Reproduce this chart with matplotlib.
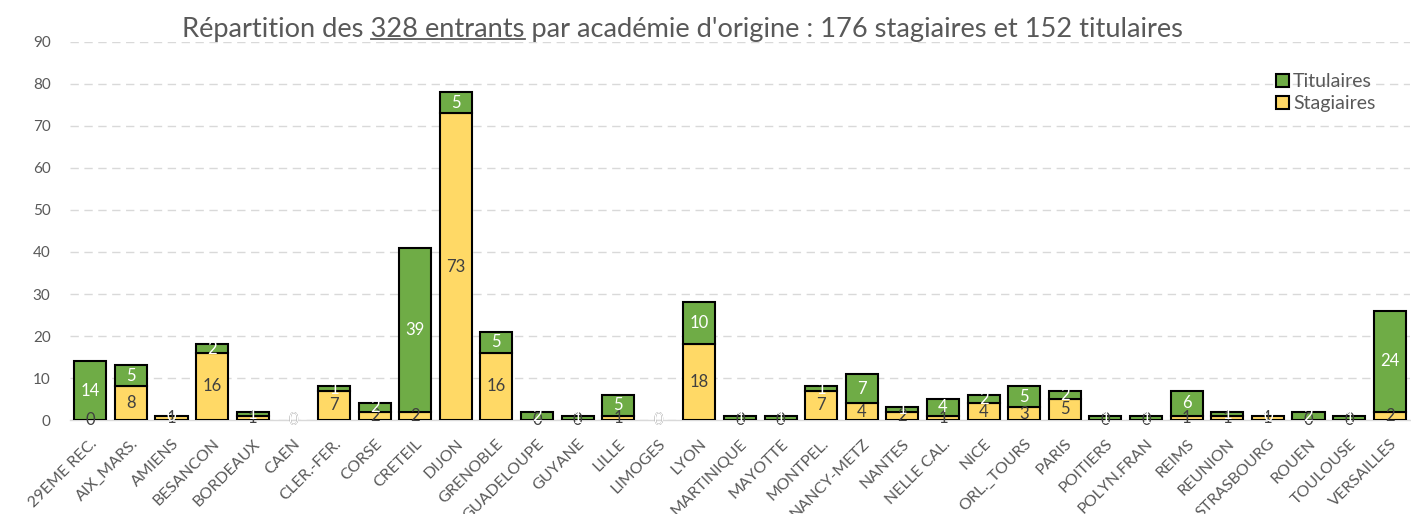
import matplotlib
matplotlib.use("Agg")
import matplotlib.pyplot as plt
from matplotlib.lines import Line2D
from matplotlib.patches import Patch
import numpy as np

categories = ["29EME REC.", "AIX_MARS.", "AMIENS", "BESANCON", "BORDEAUX", "CAEN",
              "CLER.-FER.", "CORSE", "CRETEIL", "DIJON", "GRENOBLE", "GUADELOUPE",
              "GUYANE", "LILLE", "LIMOGES", "LYON", "MARTINIQUE", "MAYOTTE",
              "MONTPEL.", "NANCY-METZ", "NANTES", "NELLE CAL.", "NICE", "ORL._TOURS",
              "PARIS", "POITIERS", "POLYN.FRAN", "REIMS", "REUNION", "STRASBOURG",
              "ROUEN", "TOULOUSE", "VERSAILLES"]
stagiaires = [0, 8, 1, 16, 1, 0, 7, 2, 2, 73, 16, 0, 0, 1, 0, 18, 0, 0,
              7, 4, 2, 1, 4, 3, 5, 0, 0, 1, 1, 1, 0, 0, 2]
titulaires = [14, 5, 0, 2, 1, 0, 1, 2, 39, 5, 5, 2, 1, 5, 0, 10, 1, 1,
              1, 7, 1, 4, 2, 5, 2, 1, 1, 6, 1, 0, 2, 1, 24]
yticks = list(range(0, 91, 10))

title_pre = "Répartition des"
title_ul = "328 entrants"
title_post = "par académie d'origine : 176 stagiaires et 152 titulaires"

FONT = "Lato"
plt.rcParams['font.family'] = [FONT, 'DejaVu Sans']

GREEN = "#6FAC46"
YELLOW = "#FFD966"
GRAY = "#595959"

W, H = 1411, 514
fig = plt.figure(figsize=(W / 100, H / 100), dpi=100)
ax = fig.add_axes([70/W, 94/H, 1340/W, 378/H])

x = np.arange(len(categories))
lw1 = [1.5 if v > 0 else 0 for v in stagiaires]
lw2 = [1.5 if v > 0 else 0 for v in titulaires]
b1 = ax.bar(x, stagiaires, width=0.79, color=YELLOW, edgecolor="black", linewidth=lw1,
            zorder=3)
b2 = ax.bar(x, titulaires, width=0.79, bottom=stagiaires, color=GREEN, edgecolor="black",
            linewidth=lw2, zorder=3)
ax.bar_label(b1, labels=[str(v) for v in stagiaires], label_type='center',
             color="#404040", fontsize=12, zorder=4)
ax.bar_label(b2, labels=[str(v) for v in titulaires], label_type='center',
             color="white", fontsize=12, zorder=4)

ax.set_xlim(-0.5, len(categories) - 0.5)
ax.set_ylim(0, 90)
ax.set_yticks(yticks)
ax.set_yticklabels([str(v) for v in yticks], color=GRAY, fontsize=11)
ax.set_xticks(x)
ax.set_xticklabels(categories, rotation=45, ha='right', rotation_mode='anchor',
                   color=GRAY, fontsize=11.5)
ax.tick_params(axis='x', length=0, pad=12)
ax.tick_params(axis='y', length=0, pad=14)
ax.grid(axis='y', color="#D9D9D9", linestyle=(0, (6, 4)), linewidth=1, zorder=0)
for s in ["top", "right", "left"]:
    ax.spines[s].set_visible(False)
ax.spines["bottom"].set_color("#D9D9D9")
ax.spines["bottom"].set_linewidth(1)

handles = [Patch(facecolor=GREEN, edgecolor="black", linewidth=1.5, label="Titulaires"),
           Patch(facecolor=YELLOW, edgecolor="black", linewidth=1.5, label="Stagiaires")]
leg = ax.legend(handles=handles, loc='upper left',
                bbox_to_anchor=((1258 - 70) / 1340, (472 - 108) / 378),
                frameon=False, fontsize=14, handlelength=0.7, handleheight=0.7,
                handletextpad=0.2, labelspacing=0.25, labelcolor=GRAY)

# Title with underlined part
full = f"{title_pre} {title_ul} {title_post}"
tsize = 19.6
ty = 1 - 29 / H
ttl = fig.text(683 / W, ty, full, ha='center', va='center', fontsize=tsize, color=GRAY)
fig.canvas.draw()
r = fig.canvas.get_renderer()

def tw(s):
    t = fig.text(0, 0, s, fontsize=tsize)
    w = t.get_window_extent(r).width
    t.remove()
    return w

space = tw("a a") - tw("aa")
bb = ttl.get_window_extent(r)
x0 = bb.x0 + tw(title_pre) + space
x1 = x0 + tw(title_ul)
yline = bb.y0 + 3
fig.add_artist(Line2D([x0 / W, x1 / W], [yline / H, yline / H], color=GRAY, linewidth=1.3,
                      transform=fig.transFigure))

fig.savefig("out.png", dpi=100)
